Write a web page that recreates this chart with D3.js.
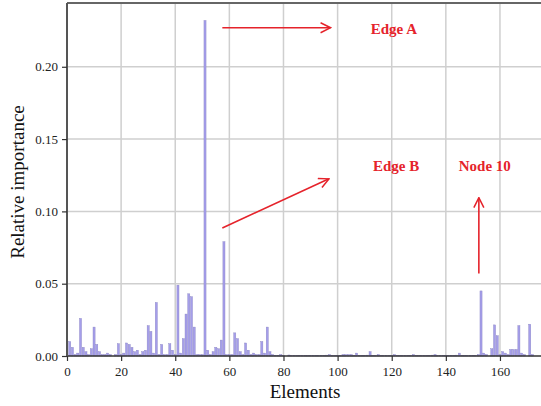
<!DOCTYPE html>
<html>
<head>
<meta charset="utf-8">
<script src="https://cdn.jsdelivr.net/npm/d3@7"></script>
<style>
  html, body { margin: 0; padding: 0; background: #fff; }
  svg { display: block; }
</style>
</head>
<body>
<svg id="chart"></svg>
<script>
// Relative importance of each element (index = element number 0..172)
const importance = [
  0, 0.010, 0.006, 0.001, 0.002, 0.026, 0.006, 0.003, 0.001, 0.005,     // 0-9
  0.020, 0.008, 0.003, 0.001, 0.001, 0.002, 0.001, 0, 0.001, 0.0085,    // 10-19
  0.001, 0.002, 0.009, 0.008, 0.006, 0.003, 0.004, 0.001, 0.003, 0.004, // 20-29
  0.021, 0.017, 0.002, 0.037, 0.001, 0.008, 0.001, 0.001, 0.0085, 0.004,// 30-39
  0.001, 0.049, 0.002, 0.012, 0.029, 0.043, 0.041, 0.020, 0.001, 0.001, // 40-49
  0.001, 0.232, 0.004, 0.001, 0.003, 0.006, 0.005, 0.011, 0.079, 0.001, // 50-59
  0.001, 0.001, 0.016, 0.012, 0.003, 0.001, 0.009, 0.004, 0.001, 0.002, // 60-69
  0.001, 0.001, 0.010, 0.002, 0.020, 0.003, 0.001, 0.0005, 0.0005, 0.001, // 70-79
  0.0005, 0, 0.0007, 0.0003, 0.0004, 0.0003, 0.0005, 0.0003, 0.0004, 0.0003, // 80-89
  0.0004, 0.0003, 0.0004, 0.0003, 0.0005, 0.0004, 0.0006, 0.001, 0.0004, 0.0003, // 90-99
  0.0005, 0.0004, 0.001, 0.001, 0.001, 0.001, 0.0005, 0.002, 0.0005, 0.0004, // 100-109
  0.0005, 0.0006, 0.003, 0.0005, 0.0004, 0.001, 0.0004, 0.0003, 0.0004, 0.0003, // 110-119
  0.0005, 0.001, 0.0004, 0.0003, 0.0004, 0.0003, 0.0004, 0.0005, 0.001, 0.0004, // 120-129
  0.0003, 0.0004, 0.0003, 0.0004, 0.0005, 0.0006, 0.001, 0.0004, 0.0003, 0.0004, // 130-139
  0.0003, 0.0004, 0.0005, 0.0004, 0.0006, 0.002, 0.0005, 0.0004, 0.0003, 0.0004, // 140-149
  0.0005, 0.0004, 0.001, 0.045, 0.002, 0.001, 0, 0.005, 0.0215, 0.014,  // 150-159
  0.001, 0.003, 0.002, 0.001, 0.0045, 0.0045, 0.0045, 0.021, 0.002, 0.001, // 160-169
  0, 0.022, 0.001                                                        // 170-172
];

const xTicks = [0, 20, 40, 60, 80, 100, 120, 140, 160];
const yTicks = [0, 0.05, 0.10, 0.15, 0.20];

// Annotations in data coordinates
const arrowLabels = ["Edge A", "Edge B", "Node 10"];
const arrowFrom = [[57.4, 0.227], [57.4, 0.0885], [152.2, 0.057]];
const arrowTo = [[97.4, 0.227], [96.8, 0.1225], [152.2, 0.1095]];
const labelAt = [[120.8, 0.2248], [121.6, 0.1305], [154.4, 0.1305]];

const width = 541, height = 406;
const margin = { left: 67, top: 3, right: -1, bottom: 50 };
const plotRight = width - margin.right;
const plotBottom = 356;

const svg = d3.select("#chart").attr("width", width).attr("height", height);

const x = d3.scaleLinear().domain([0, 176]).range([margin.left, margin.left + 176 * 2.706]);
const y = d3.scaleLinear().domain([0, 0.2441]).range([plotBottom, margin.top]);

const serif = "'Liberation Serif', 'DejaVu Serif', serif";

// Grid
svg.append("g").selectAll("line.vg")
  .data(xTicks.filter(d => d > 0))
  .join("line")
  .attr("x1", d => x(d)).attr("x2", d => x(d))
  .attr("y1", margin.top).attr("y2", plotBottom)
  .attr("stroke", "#cfcfcf").attr("stroke-width", 1.5);

svg.append("g").selectAll("line.hg")
  .data(yTicks.filter(d => d > 0))
  .join("line")
  .attr("x1", margin.left).attr("x2", plotRight)
  .attr("y1", d => y(d)).attr("y2", d => y(d))
  .attr("stroke", "#cfcfcf").attr("stroke-width", 1.5);

// Bars
const barW = 2.1;
svg.append("g").selectAll("rect")
  .data(importance.map((v, i) => ({ i, v })).filter(d => d.v > 0))
  .join("rect")
  .attr("x", d => x(d.i) - barW / 2)
  .attr("width", barW)
  .attr("y", d => y(d.v))
  .attr("height", d => plotBottom - y(d.v))
  .attr("fill", "#a59eea")
  .attr("stroke", "#8a84c2")
  .attr("stroke-width", 0.4);

// Frame: top border
svg.append("line")
  .attr("x1", margin.left).attr("x2", plotRight)
  .attr("y1", margin.top).attr("y2", margin.top)
  .attr("stroke", "#666").attr("stroke-width", 2);

// Axes
const xAxis = svg.append("g")
  .attr("transform", `translate(0,${plotBottom})`)
  .call(d3.axisBottom(x).tickValues(xTicks).tickFormat(d3.format("d")).tickSize(5).tickSizeOuter(0));
xAxis.select(".domain").attr("stroke", "#333").attr("stroke-width", 1.6).attr("d", `M${margin.left},0H${plotRight}`);
xAxis.selectAll(".tick line").attr("stroke", "#333").attr("stroke-width", 1.2);
xAxis.selectAll("text").attr("font-family", serif).attr("font-size", 13).attr("fill", "#222").attr("dy", "0.95em");

const yAxis = svg.append("g")
  .attr("transform", `translate(${margin.left},0)`)
  .call(d3.axisLeft(y).tickValues(yTicks).tickFormat(d3.format(".2f")).tickSize(5).tickSizeOuter(0));
yAxis.select(".domain").attr("stroke", "#555").attr("stroke-width", 2).attr("d", `M0,${margin.top}V${plotBottom}`);
yAxis.selectAll(".tick line").attr("stroke", "#333").attr("stroke-width", 1.2);
yAxis.selectAll("text").attr("font-family", serif).attr("font-size", 13).attr("fill", "#222").attr("x", -9);

// Axis titles
svg.append("text")
  .attr("x", 305).attr("y", 398)
  .attr("text-anchor", "middle")
  .attr("font-family", serif).attr("font-size", 19).attr("fill", "#111")
  .text("Elements");

svg.append("text")
  .attr("transform", "translate(24,182) rotate(-90)")
  .attr("text-anchor", "middle")
  .attr("font-family", serif).attr("font-size", 19).attr("fill", "#111")
  .text("Relative importance");

// Annotations
const red = "#e5232b";
svg.append("defs").append("marker")
  .attr("id", "head")
  .attr("viewBox", "0 0 12 12")
  .attr("refX", 11).attr("refY", 6)
  .attr("markerWidth", 12).attr("markerHeight", 12)
  .attr("markerUnits", "userSpaceOnUse")
  .attr("orient", "auto")
  .append("path")
  .attr("d", "M1,1L11,6L1,11")
  .attr("fill", "none").attr("stroke", red).attr("stroke-width", 1.5);

svg.append("g").selectAll("line")
  .data(arrowLabels.map((l, k) => k))
  .join("line")
  .attr("x1", k => x(arrowFrom[k][0])).attr("y1", k => y(arrowFrom[k][1]))
  .attr("x2", k => x(arrowTo[k][0])).attr("y2", k => y(arrowTo[k][1]))
  .attr("stroke", red).attr("stroke-width", 1.6)
  .attr("marker-end", "url(#head)");

svg.append("g").selectAll("text")
  .data(arrowLabels.map((l, k) => k))
  .join("text")
  .attr("x", k => x(labelAt[k][0])).attr("y", k => y(labelAt[k][1]))
  .attr("text-anchor", "middle").attr("dominant-baseline", "middle")
  .attr("font-family", serif).attr("font-size", 15).attr("font-weight", "bold")
  .attr("fill", red)
  .text(k => arrowLabels[k]);
</script>
</body>
</html>
